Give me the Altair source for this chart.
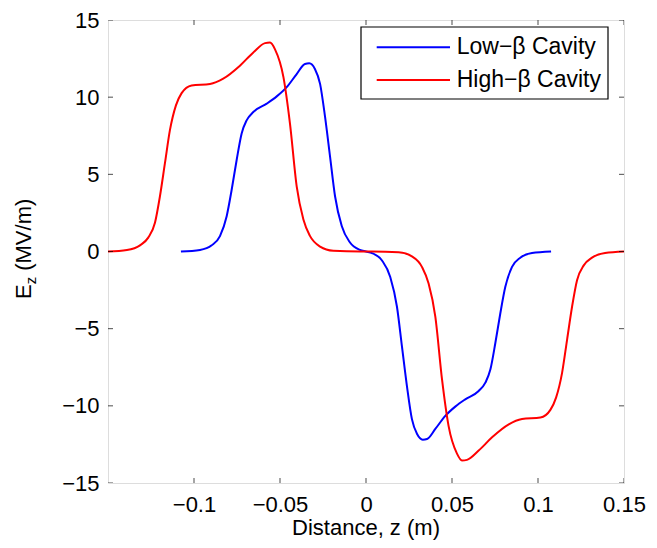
import altair as alt
import pandas as pd

# ---- data ----
series_names = ["Low−β Cavity", "High−β Cavity"]
series_colors = ["#0000ff", "#ff0000"]

low_z = [-0.1076, -0.0965, -0.0897, -0.0849, -0.0810, -0.0781, -0.0752, -0.0723, -0.0694,
         -0.0655, -0.0577, -0.0519, -0.0461, -0.0403, -0.0355, -0.0330, -0.0297, -0.0267,
         -0.0238, -0.0209, -0.0180, -0.0141, -0.0093, -0.0035, 0.0,
         0.0035, 0.0093, 0.0141, 0.0180, 0.0209, 0.0238, 0.0267, 0.0297, 0.0330, 0.0355,
         0.0403, 0.0461, 0.0519, 0.0577, 0.0655, 0.0694, 0.0723, 0.0752, 0.0781, 0.0810,
         0.0849, 0.0897, 0.0965, 0.1076]
low_E = [0.0, 0.1, 0.4, 1.0, 2.29, 4.0, 5.93, 7.65, 8.5,
         9.04, 9.58, 10.05, 10.65, 11.5, 12.15, 12.19, 11.83, 10.86,
         8.72, 6.15, 3.58, 1.65, 0.58, 0.1, 0.0,
         -0.1, -0.58, -1.65, -3.58, -6.15, -8.72, -10.86, -11.83, -12.19, -12.15,
         -11.5, -10.65, -10.05, -9.58, -9.04, -8.5, -7.65, -5.93, -4.0, -2.29,
         -1.0, -0.4, -0.1, 0.0]

high_z = [-0.150, -0.139, -0.1314, -0.1266, -0.1227, -0.1198, -0.1169, -0.1140, -0.1105,
          -0.1072, -0.1014, -0.0907, -0.0830, -0.0733, -0.0655, -0.0587, -0.0558, -0.0529,
          -0.0480, -0.0442, -0.0403, -0.0364, -0.0326, -0.0267, -0.0190, -0.0035, 0.0,
          0.0035, 0.0190, 0.0267, 0.0326, 0.0364, 0.0403, 0.0442, 0.0480, 0.0529,
          0.0558, 0.0587, 0.0655, 0.0733, 0.0830, 0.0907, 0.1014, 0.1072, 0.1105,
          0.1140, 0.1169, 0.1198, 0.1227, 0.1266, 0.1314, 0.139, 0.150]
high_E = [0.0, 0.1, 0.4, 0.9, 1.86, 3.58, 5.72, 7.86, 9.47,
          10.26, 10.76, 10.86, 11.2, 12.04, 12.9, 13.5, 13.54, 13.1,
          11.3, 8.29, 4.22, 2.08, 1.01, 0.32, 0.05, 0.0, 0.0,
          0.0, -0.05, -0.32, -1.01, -2.08, -4.22, -8.29, -11.3, -13.1,
          -13.54, -13.5, -12.9, -12.04, -11.2, -10.86, -10.76, -10.26, -9.47,
          -7.86, -5.72, -3.58, -1.86, -0.9, -0.4, -0.1, 0.0]

x_ticks = [-0.1, -0.05, 0.0, 0.05, 0.1, 0.15]
y_ticks = [-15, -10, -5, 0, 5, 10, 15]

x_title = "Distance, z (m)"
y_title_main = "E"
y_title_sub = "z"
y_title_unit = "(MV/m)"

# ---- build ----
FONT = "Liberation Sans"
W, H = 516, 463

df = pd.concat([
    pd.DataFrame({"z": low_z, "E": low_E, "series": series_names[0], "order": range(len(low_z))}),
    pd.DataFrame({"z": high_z, "E": high_E, "series": series_names[1], "order": range(len(high_z))}),
])

xscale = alt.Scale(domain=[-0.15, 0.15], nice=False, zero=False)
yscale = alt.Scale(domain=[-15, 15], nice=False, zero=False)

lines = alt.Chart(df).mark_line(strokeWidth=2, interpolate="monotone").encode(
    x=alt.X("z:Q", scale=xscale,
            axis=alt.Axis(values=x_ticks, format="~g", ticks=False, tickSize=0, domain=False,
                          grid=False, labelFontSize=22, labelFont=FONT, labelColor="black",
                          labelPadding=11, labelFlush=False, labelOverlap=False, title=None)),
    y=alt.Y("E:Q", scale=yscale,
            axis=alt.Axis(values=y_ticks, format="d", ticks=False, tickSize=0, domain=False,
                          grid=False, labelFontSize=22, labelFont=FONT, labelColor="black",
                          labelPadding=9, labelOverlap=False, title=None)),
    color=alt.Color("series:N", scale=alt.Scale(domain=series_names, range=series_colors), legend=None),
    order="order:Q",
)

xt = pd.DataFrame({"t": x_ticks})
yt = pd.DataFrame({"t": y_ticks})
tick_layers = []
for yv in [0, H]:
    tick_layers.append(alt.Chart(xt).mark_tick(orient="vertical", size=10, thickness=1, color="black", clip=True)
                       .encode(x=alt.X("t:Q", scale=xscale), y=alt.value(yv)))
for xv in [0, W]:
    tick_layers.append(alt.Chart(yt).mark_tick(orient="horizontal", size=10, thickness=1, color="black", clip=True)
                       .encode(y=alt.Y("t:Q", scale=yscale), x=alt.value(xv)))

one = pd.DataFrame({"k": [0]})

def text_layer(txt, x, y, size, **kw):
    return alt.Chart(pd.DataFrame({"label": [txt]})).mark_text(
        font=FONT, fontSize=size, color="black", **kw
    ).encode(text="label:N", x=alt.value(x), y=alt.value(y))

titles = [
    text_layer(x_title, 258, 515, 22, align="center", baseline="alphabetic"),
    text_layer(y_title_main, -77, 279, 22, align="left", baseline="alphabetic", angle=270),
    text_layer(y_title_sub, -72, 264.3, 15, align="left", baseline="alphabetic", angle=270),
    text_layer(y_title_unit, -77, 250.8, 22, align="left", baseline="alphabetic", angle=270),
]

legend_box = alt.Chart(one).mark_rect(fill="white", stroke="black", strokeWidth=1.2).encode(
    x=alt.value(253), x2=alt.value(500), y=alt.value(7), y2=alt.value(79)
)
legend_layers = [legend_box]
row_y = [27.3, 60.0]
for name, col, ry in zip(series_names, series_colors, row_y):
    legend_layers.append(alt.Chart(one).mark_rule(color=col, strokeWidth=2).encode(
        x=alt.value(268.7), x2=alt.value(342), y=alt.value(ry)))
    legend_layers.append(text_layer(name, 348.7, ry, 23, align="left", baseline="middle"))

chart = alt.layer(lines, *tick_layers, *titles, *legend_layers).properties(
    width=W, height=H,
    autosize=alt.AutoSizeParams(type="none"),
    padding={"left": 100, "top": 12, "right": 25, "bottom": 57},
).configure_view(stroke="black", strokeWidth=1.5).configure(background="white")

chart.save("out.html", embed_options={"renderer": "svg", "actions": False})
